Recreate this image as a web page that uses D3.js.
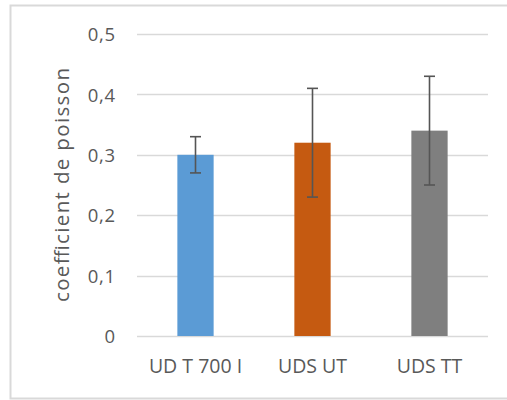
<!DOCTYPE html>
<html><head><meta charset="utf-8">
<script src="https://cdn.jsdelivr.net/npm/d3@7"></script>
<style>body{margin:0;background:#fff}svg{display:block}text{font-family:"Open Sans",sans-serif;fill:#595959}</style>
</head><body><svg id="c" width="507" height="400"></svg>
<script>
const categories = ["UD T 700 I", "UDS UT", "UDS TT"];
const values = [0.30, 0.32, 0.34];
const errors = [0.03, 0.09, 0.09];
const colors = ["#5b9bd5", "#c55a11", "#7f7f7f"];
const yTicks = [0, 0.1, 0.2, 0.3, 0.4, 0.5];
const yTickLabels = ["0", "0,1", "0,2", "0,3", "0,4", "0,5"];
const yTitle = "coefficient de poisson";

const svg = d3.select("#c");
svg.append("rect").attr("x", 10.5).attr("y", 5.5).attr("width", 510).attr("height", 393)
  .attr("fill", "#fff").attr("stroke", "#d9d9d9").attr("stroke-width", 2);

const x = d3.scaleBand().domain(categories).range([137, 488]).paddingInner(0.69).paddingOuter(0.345);
const y = d3.scaleLinear().domain([0, 0.5]).range([336, 34]);

const g = svg.append("g");
g.selectAll("line.grid").data(yTicks).join("line").attr("class", "grid")
  .attr("x1", 137).attr("x2", 488).attr("y1", d => Math.round(y(d)) + 0.5).attr("y2", d => Math.round(y(d)) + 0.5)
  .attr("stroke", "#d9d9d9").attr("stroke-width", 1.3);

const yAxis = d3.axisLeft(y).tickValues(yTicks).tickFormat((d, i) => yTickLabels[i]).tickSize(0).tickPadding(0);
const ya = g.append("g").attr("transform", "translate(116,0)").call(yAxis);
ya.select(".domain").remove();
ya.selectAll("text").attr("font-size", 18.5).style("font-family", "Open Sans").attr("fill", "#595959").attr("dy", "0.36em")
  .attr("letter-spacing", 0.8);

g.selectAll("rect.bar").data(values).join("rect").attr("class", "bar")
  .attr("x", (d, i) => x(categories[i])).attr("width", x.bandwidth())
  .attr("y", d => y(d)).attr("height", d => y(0) - y(d))
  .attr("fill", (d, i) => colors[i]);

const eb = g.selectAll("g.err").data(values).join("g").attr("class", "err");
eb.append("line").attr("x1", (d, i) => x(categories[i]) + x.bandwidth() / 2).attr("x2", (d, i) => x(categories[i]) + x.bandwidth() / 2)
  .attr("y1", (d, i) => y(d + errors[i])).attr("y2", (d, i) => y(d - errors[i]));
eb.append("line").attr("x1", (d, i) => x(categories[i]) + x.bandwidth() / 2 - 5.5).attr("x2", (d, i) => x(categories[i]) + x.bandwidth() / 2 + 5.5)
  .attr("y1", (d, i) => y(d + errors[i])).attr("y2", (d, i) => y(d + errors[i]));
eb.append("line").attr("x1", (d, i) => x(categories[i]) + x.bandwidth() / 2 - 5.5).attr("x2", (d, i) => x(categories[i]) + x.bandwidth() / 2 + 5.5)
  .attr("y1", (d, i) => y(d - errors[i])).attr("y2", (d, i) => y(d - errors[i]));
eb.selectAll("line").attr("stroke", "#555").attr("stroke-width", 1.6);

const xAxis = d3.axisBottom(x).tickSize(0).tickPadding(0);
const xa = g.append("g").attr("transform", "translate(0,373)").call(xAxis);
xa.select(".domain").remove();
xa.selectAll("text").attr("font-size", 19.5).style("font-family", "Open Sans").attr("fill", "#595959").attr("dy", 0).attr("y", 0);

g.append("text").attr("transform", "translate(69,185) rotate(-90)").attr("text-anchor", "middle")
  .attr("font-size", 20.5).attr("textLength", 234).attr("lengthAdjust", "spacing").text(yTitle);
</script></body></html>
